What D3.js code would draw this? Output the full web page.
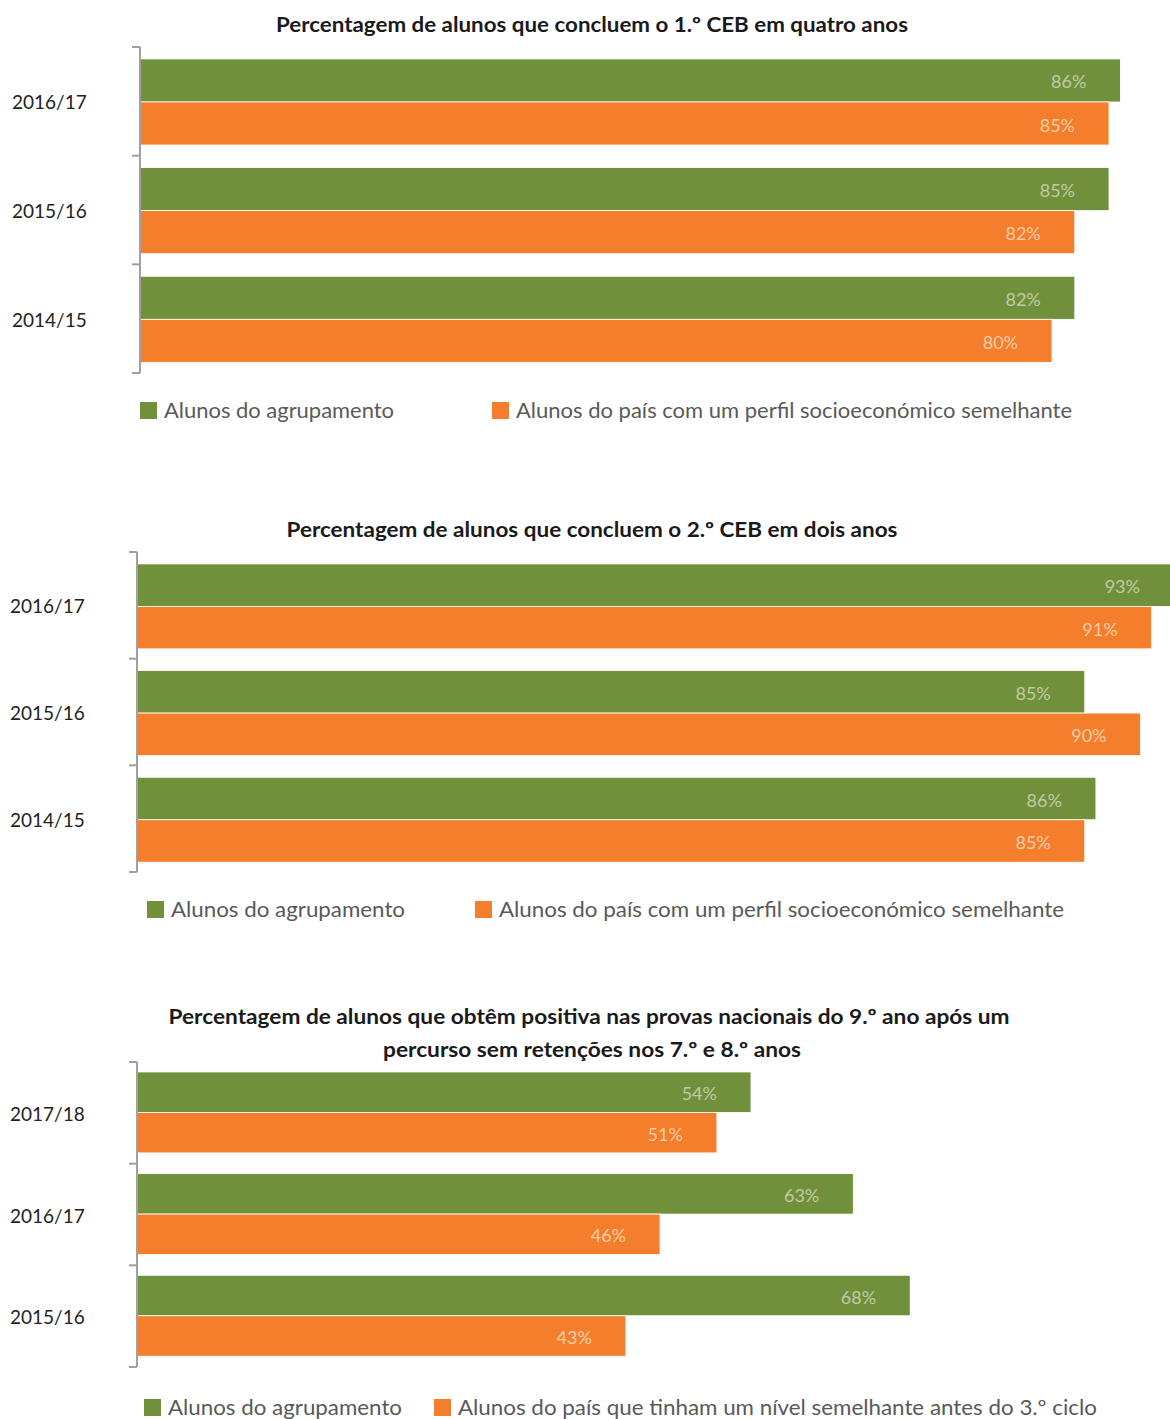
<!DOCTYPE html>
<html><head><meta charset="utf-8">
<script src="https://cdn.jsdelivr.net/npm/d3@7"></script>
<style>body{margin:0;background:#fff}svg{display:block}text{font-family:Lato,"Open Sans",sans-serif}</style>
</head><body>
<svg id="c" width="1170" height="1419"></svg>
<script>
// Chart 1
const c1Title = ["Percentagem de alunos que concluem o 1.º CEB em quatro anos"];
const c1Categories = ["2016/17", "2015/16", "2014/15"];
const c1Agrupamento = [86, 85, 82];
const c1Pais = [85, 82, 80];
const c1Legend = ["Alunos do agrupamento", "Alunos do país com um perfil socioeconómico semelhante"];
// Chart 2
const c2Title = ["Percentagem de alunos que concluem o 2.º CEB em dois anos"];
const c2Categories = ["2016/17", "2015/16", "2014/15"];
const c2Agrupamento = [93, 85, 86];
const c2Pais = [91, 90, 85];
const c2Legend = ["Alunos do agrupamento", "Alunos do país com um perfil socioeconómico semelhante"];
// Chart 3
const c3Title = ["Percentagem de alunos que obtêm positiva nas provas nacionais do 9.º ano após um", "percurso sem retenções nos 7.º e 8.º anos"];
const c3Categories = ["2017/18", "2016/17", "2015/16"];
const c3Agrupamento = [54, 63, 68];
const c3Pais = [51, 46, 43];
const c3Legend = ["Alunos do agrupamento", "Alunos do país que tinham um nível semelhante antes do 3.º ciclo"];

const GREEN = "#71903b", ORANGE = "#f47e2b";
const svg = d3.select("#c");

function drawChart(cfg) {
  const g = svg.append("g");
  cfg.title.forEach((t, i) => {
    g.append("text").attr("x", cfg.titleX[i]).attr("y", cfg.titleY + i * 33)
      .attr("text-anchor", "middle").attr("font-size", 20).attr("font-weight", "bold")
      .attr("fill", "#1a1a1a").attr("textLength", cfg.titleW[i]).attr("lengthAdjust", "spacingAndGlyphs").text(t);
  });
  const y = d3.scaleBand().domain(cfg.categories).range([cfg.y0, cfg.y1]).paddingInner(0).paddingOuter(0);
  const x = d3.scaleLinear().domain([0, 100]).range([cfg.x0, cfg.x0 + cfg.pxPer100]);
  const bw = y.bandwidth();
  const padTop = bw * cfg.padFrac, barH = bw * cfg.barFrac;
  const series = [
    {vals: cfg.agr, color: GREEN, textColor: "#c0cba6", off: 0},
    {vals: cfg.pais, color: ORANGE, textColor: "#fbcda9", off: 1}
  ];
  series.forEach(s => {
    g.selectAll(null).data(cfg.categories).enter().append("rect")
      .attr("x", x(0)).attr("y", (d) => y(d) + padTop + s.off * barH)
      .attr("width", (d, i) => x(s.vals[i]) - x(0)).attr("height", barH)
      .attr("fill", s.color).attr("stroke", "#fff").attr("stroke-width", 0.8);
    g.selectAll(null).data(cfg.categories).enter().append("text")
      .attr("x", (d, i) => x(s.vals[i]) - 34).attr("y", (d) => y(d) + padTop + s.off * barH + barH / 2 + 8)
      .attr("text-anchor", "end").attr("font-size", 18).attr("fill", s.textColor)
      .text((d, i) => s.vals[i] + "%");
  });
  const bounds = cfg.categories.map(c => y(c)).concat([cfg.y1]);
  const ax = g.append("g").attr("stroke", "#a0a0a0").attr("stroke-width", 2).attr("fill", "none");
  ax.append("line").attr("x1", cfg.x0).attr("x2", cfg.x0).attr("y1", cfg.y0).attr("y2", cfg.y1);
  ax.selectAll(null).data(bounds).enter().append("line")
    .attr("x1", cfg.x0 - 8).attr("x2", cfg.x0).attr("y1", d => d).attr("y2", d => d);
  g.selectAll(null).data(cfg.categories).enter().append("text")
    .attr("x", cfg.labelX).attr("y", d => y(d) + bw / 2 + 8)
    .attr("font-size", 19).attr("fill", "#222").text(d => d);
  const cols = [GREEN, ORANGE];
  cfg.legend.forEach((t, i) => {
    g.append("rect").attr("x", cfg.legX[i]).attr("y", cfg.legY).attr("width", 17).attr("height", 17).attr("fill", cols[i]);
    g.append("text").attr("x", cfg.legX[i] + 24).attr("y", cfg.legY + 16)
      .attr("font-size", 21).attr("fill", "#595959")
      .attr("textLength", cfg.legW[i]).attr("lengthAdjust", "spacingAndGlyphs").text(t);
  });
}

drawChart({title: c1Title, titleX: [592], titleW: [632], titleY: 32, categories: c1Categories, agr: c1Agrupamento, pais: c1Pais,
  y0: 47, y1: 373, x0: 140, pxPer100: 1140, padFrac: 0.11, barFrac: 0.396, labelX: 12,
  legend: c1Legend, legX: [140, 492], legY: 402, legW: [230, 556]});
drawChart({title: c2Title, titleX: [592], titleW: [611], titleY: 537, categories: c2Categories, agr: c2Agrupamento, pais: c2Pais,
  y0: 552, y1: 872, x0: 137, pxPer100: 1115, padFrac: 0.112, barFrac: 0.398, labelX: 10,
  legend: c2Legend, legX: [147, 475], legY: 901, legW: [234, 565]});
drawChart({title: c3Title, titleX: [589, 592], titleW: [841, 418], titleY: 1024, categories: c3Categories, agr: c3Agrupamento, pais: c3Pais,
  y0: 1062, y1: 1367, x0: 137, pxPer100: 1137, padFrac: 0.098, barFrac: 0.398, labelX: 10,
  legend: c3Legend, legX: [144, 434], legY: 1399, legW: [234, 639]});
</script>
</body></html>
